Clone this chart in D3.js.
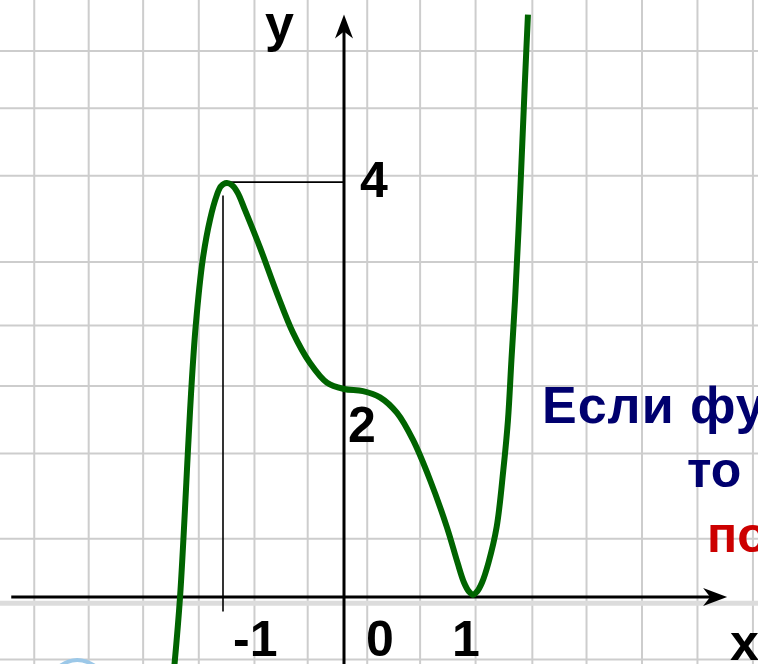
<!DOCTYPE html>
<html>
<head>
<meta charset="utf-8">
<title>График функции</title>
<script src="https://d3js.org/d3.v7.min.js"></script>
<style>
  body { margin: 0; background: #fff; }
  svg { display: block; }
  text { font-family: "Liberation Sans", Arial, sans-serif; font-weight: bold; }
</style>
</head>
<body>
<div id="chart"></div>
<script>
// curve points (data units)
const curveX = [-1.405, -1.355, -1.285, -1.264, -1.226, -1.168, -1.107, -1.052, -1.017, -0.969, -0.926, -0.88, -0.818, -0.694, -0.554, -0.421, -0.281, -0.14, 0, 0.147, 0.279, 0.411, 0.535, 0.667, 0.798, 0.88, 0.93, 0.97, 1.0, 1.03, 1.07, 1.12, 1.183, 1.235, 1.271, 1.298, 1.326, 1.353, 1.38, 1.403, 1.426];
const curveY = [-0.7, 0, 1.51, 1.96, 2.6, 3.24, 3.63, 3.86, 3.95, 3.98, 3.96, 3.89, 3.72, 3.36, 2.92, 2.54, 2.25, 2.06, 2.0, 1.98, 1.92, 1.77, 1.51, 1.125, 0.67, 0.33, 0.14, 0.05, 0.02, 0.05, 0.14, 0.33, 0.67, 1.22, 1.7, 2.28, 2.86, 3.53, 4.3, 4.97, 5.6];

// graph paper lines (data units)
const gridX = [-2.56, -2.11, -1.66, -1.2, -0.74, -0.3, 0.18, 0.59, 1.02, 1.46, 1.88, 2.31, 2.74, 3.17];
const gridY = [5.25, 4.7, 4.05, 3.22, 2.61, 2.03, 1.38, 0.56, -0.06, -0.6];

const xTicks = [-1, 0, 1];
const xTickLabels = ["-1", "0", "1"];
const yTicks = [2, 4];
const yTickLabels = ["2", "4"];

const peak = { x: -0.97, y: 3.98 };

const W = 758, H = 664;

const svg = d3.select("#chart")
  .append("svg")
  .attr("width", W)
  .attr("height", H);

const x = d3.scaleLinear().domain([-1, 0, 1]).range([223, 344, 473]);
const y = d3.scaleLinear().domain([0, 4]).range([597, 181]);

// grid
svg.append("g")
  .selectAll("line")
  .data(gridX)
  .join("line")
  .attr("x1", d => x(d)).attr("x2", d => x(d))
  .attr("y1", 0).attr("y2", H)
  .attr("stroke", "#cdcdcd")
  .attr("stroke-width", 2);

svg.append("g")
  .selectAll("line")
  .data(gridY)
  .join("line")
  .attr("x1", 0).attr("x2", W)
  .attr("y1", d => y(d)).attr("y2", d => y(d))
  .attr("stroke", (d, i) => i === 8 ? "#dcdcdc" : "#cdcdcd")
  .attr("stroke-width", (d, i) => i === 8 ? 5 : 2);

// small light blue bit at bottom left
svg.append("path")
  .attr("d", "M60,666 Q77,654 95,666")
  .attr("fill", "none")
  .attr("stroke", "#9cc8e8")
  .attr("stroke-width", 4);

// guide lines to the maximum
svg.append("line")
  .attr("x1", x(peak.x) + 1).attr("x2", x(0))
  .attr("y1", y(peak.y) - 1).attr("y2", y(peak.y) - 1)
  .attr("stroke", "#000").attr("stroke-width", 1.6);
svg.append("line")
  .attr("x1", x(-1)).attr("x2", x(-1))
  .attr("y1", y(3.86)).attr("y2", y(-0.14))
  .attr("stroke", "#000").attr("stroke-width", 1.6);

// axes
const xEnd = x(2.97), yEnd = y(5.6);
svg.append("line")
  .attr("x1", x(-2.75)).attr("x2", xEnd - 10)
  .attr("y1", y(0)).attr("y2", y(0))
  .attr("stroke", "#000").attr("stroke-width", 3);
svg.append("line")
  .attr("x1", x(0)).attr("x2", x(0))
  .attr("y1", H).attr("y2", yEnd + 10)
  .attr("stroke", "#000").attr("stroke-width", 3);

svg.append("path")
  .attr("d", `M${xEnd},${y(0)} L${xEnd - 24},${y(0) - 9} L${xEnd - 17},${y(0)} L${xEnd - 24},${y(0) + 9} Z`)
  .attr("fill", "#000");
svg.append("path")
  .attr("d", `M${x(0)},${yEnd} L${x(0) - 9},${yEnd + 24} L${x(0)},${yEnd + 17} L${x(0) + 9},${yEnd + 24} Z`)
  .attr("fill", "#000");

// curve
const pts = curveX.map((d, i) => [d, curveY[i]]);
svg.append("path")
  .datum(pts)
  .attr("fill", "none")
  .attr("stroke", "#006400")
  .attr("stroke-width", 6)
  .attr("stroke-linejoin", "round")
  .attr("d", d3.line()
    .x(d => x(d[0]))
    .y(d => y(d[1]))
    .curve(d3.curveCatmullRom.alpha(0.5)));

// labels
const xLabelDx = [10, 22, -21];
svg.append("g")
  .selectAll("text")
  .data(xTicks)
  .join("text")
  .attr("x", (d, i) => x(d) + xLabelDx[i])
  .attr("y", 656)
  .attr("font-size", 50)
  .text((d, i) => xTickLabels[i]);

const yLabelDx = [4, 16];
svg.append("g")
  .selectAll("text")
  .data(yTicks)
  .join("text")
  .attr("x", (d, i) => x(0) + yLabelDx[i])
  .attr("y", (d, i) => i === 0 ? 442 : 197)
  .attr("font-size", 50)
  .text((d, i) => yTickLabels[i]);

svg.append("text").attr("x", 265).attr("y", 41).attr("font-size", 52).text("у");
svg.append("text").attr("x", 730).attr("y", 660).attr("font-size", 52).text("х");

// text on the right, cut by the edge
svg.append("text").attr("x", 542).attr("y", 423).attr("font-size", 52)
  .attr("letter-spacing", 1)
  .attr("fill", "#00006e").text("Если функция");
svg.append("text").attr("x", 687).attr("y", 487).attr("font-size", 50)
  .attr("fill", "#00006e").text("то");
svg.append("text").attr("x", 707).attr("y", 552).attr("font-size", 50)
  .attr("fill", "#cc0000").text("по");
</script>
</body>
</html>
